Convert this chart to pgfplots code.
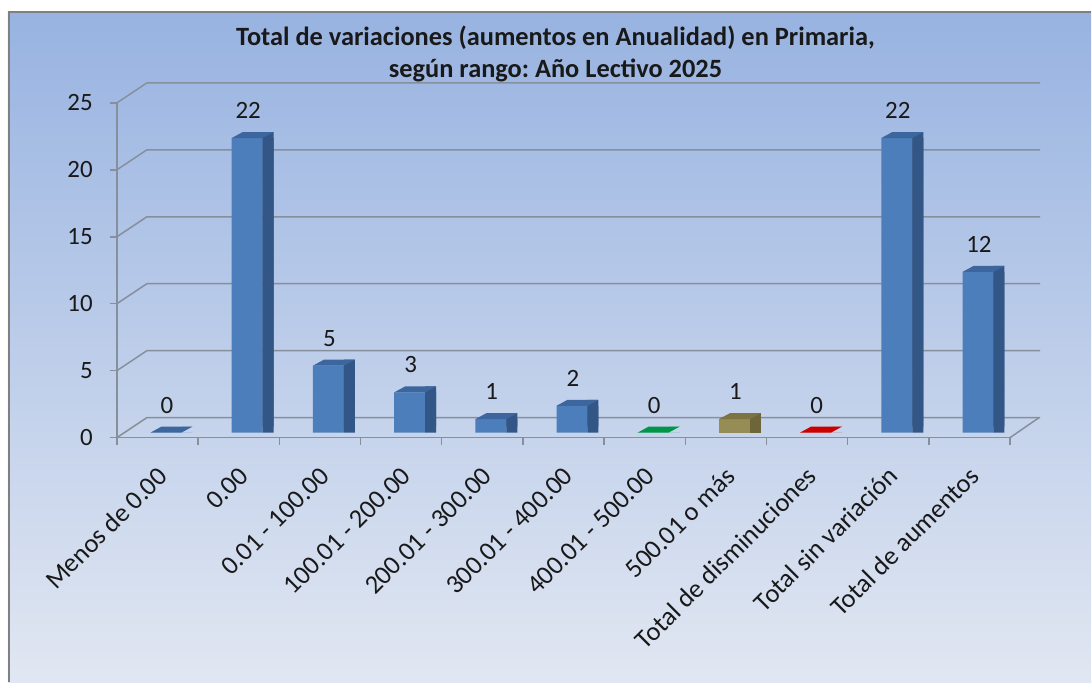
\documentclass[border=0pt]{standalone}
\usepackage{pgfplots}
\usepackage{pgfplotstable}
\pgfplotsset{compat=1.18}
\usepackage{fontspec}
\setmainfont{Carlito}
\frenchspacing
\definecolor{bgtop}{RGB}{152,179,225}
\definecolor{bgbot}{RGB}{225,231,242}
\definecolor{gridc}{RGB}{134,143,156}
\definecolor{bfront}{RGB}{76,126,188}
\definecolor{bside}{RGB}{50,86,134}
\definecolor{btop}{RGB}{60,102,157}
\definecolor{gfront}{RGB}{0,160,80}
\definecolor{gtop}{RGB}{0,150,72}
\definecolor{ofront}{RGB}{150,140,85}
\definecolor{oside}{RGB}{110,102,58}
\definecolor{otop}{RGB}{124,115,68}
\definecolor{rfront}{RGB}{210,0,0}
\definecolor{rtop}{RGB}{205,0,0}
\definecolor{txt}{RGB}{25,25,25}

\pgfdeclareplotmark{toppar}{%
  \pgfpathmoveto{\pgfpoint{-7bp}{5bp}}%
  \pgfpathlineto{\pgfpoint{4bp}{11bp}}%
  \pgfpathlineto{\pgfpoint{35bp}{11bp}}%
  \pgfpathlineto{\pgfpoint{24bp}{5bp}}%
  \pgfpathclose
  \pgfusepathqfill
}

\pgfplotstableread{
x v
0.5 0
1.5 22
2.5 5
3.5 3
4.5 1
5.5 2
9.5 22
10.5 12
}\bluedata
\pgfplotstableread{
x v
6.5 0
}\greendata
\pgfplotstableread{
x v
7.5 1
}\olivedata
\pgfplotstableread{
x v
8.5 0
}\reddata

\newcommand{\threedbar}[4]{%
  \addplot[ybar, bar width=31bp, bar shift=8.5bp, yshift=5bp, fill=#2, draw=none] table[x=x,y=v]{#1};
  \addplot[ybar, bar width=11bp, bar shift=29.5bp, yshift=5bp, fill=#3, draw=none] table[x=x,y=v]{#1};
  \addplot[ybar, bar width=11bp, bar shift=29.5bp, yshift=11bp, fill=#3, draw=none] table[x=x,y=v]{#1};
  \addplot[only marks, mark=toppar, mark options={fill=#4, draw=none},
    nodes near coords, point meta=y,
    every node near coord/.append style={anchor=center, xshift=9.5bp, yshift=32.5bp,
      font=\fontsize{25}{25}\selectfont, text=txt}] table[x=x,y=v]{#1};
}

\begin{document}
\begin{tikzpicture}[x=1bp,y=1bp]
\fill[white] (0,0) rectangle (1092,683);
\shade[top color=bgtop, bottom color=bgbot] (8,0) rectangle (1092,671);
\draw[line width=2bp, color=gray] (9,0) -- (9,671) -- (1092,671);
\node[font=\bfseries\fontsize{26.5}{33}\selectfont, align=center, text=txt] at (556,629)
  {Total de variaciones (aumentos en Anualidad) en Primaria,\\ según rango: Año Lectivo 2025};
\begin{axis}[
  at={(117bp,245bp)}, anchor=south west,
  width=894bp, height=335bp, scale only axis,
  xmin=0, xmax=11, ymin=0, ymax=25, clip=false,
  axis x line*=bottom, axis y line*=left,
  axis line style={gridc, line width=1.5bp, -},
  /pgf/number format/assume math mode=true,
  tick label style={font=\fontsize{25}{25}\selectfont, text=txt},
  ytick={0,5,...,25},
  tick align=outside, major tick length=7bp,
  tick style={gridc, line width=1.5bp},
  yticklabel style={anchor=east, inner sep=0pt, xshift=-17bp},
  xtick={0,...,11}, xticklabels={},
  extra x ticks={0.5,1.5,...,10.5},
  extra x tick labels={Menos de 0.00, 0.00, 0.01 - 100.00, 100.01 - 200.00, 200.01 - 300.00, 300.01 - 400.00, 400.01 - 500.00, 500.01 o más, Total de disminuciones, Total sin variación, Total de aumentos},
  extra x tick style={major tick length=0pt,
    xticklabel style={inner sep=0pt, font=\fontsize{26.5}{26.5}\selectfont,
      xshift=5bp, yshift=-34bp, rotate=45, anchor=east}},
]
\pgfplotsinvokeforeach{0,5,...,25}{
  \draw[gridc, line width=1.5bp] (axis cs:0,#1) -- ++(30bp,20bp) -- ++(894bp,0bp);
}
\draw[gridc, line width=1.5bp] (axis cs:11,0) -- ++(29bp,20bp);
\threedbar{\bluedata}{bfront}{bside}{btop}
\threedbar{\greendata}{gfront}{gtop}{gtop}
\threedbar{\olivedata}{ofront}{oside}{otop}
\threedbar{\reddata}{rfront}{rtop}{rtop}
\end{axis}
\end{tikzpicture}
\end{document}
